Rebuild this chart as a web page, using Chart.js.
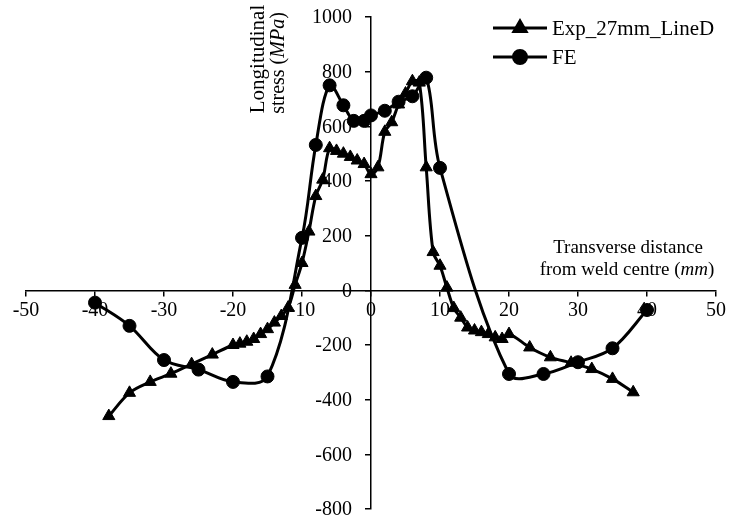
<!DOCTYPE html>
<html>
<head>
<meta charset="utf-8">
<script src="https://cdn.jsdelivr.net/npm/chart.js@4.4.1/dist/chart.umd.min.js"></script>
<style>
  body { margin: 0; background: #fff; }
</style>
</head>
<body>
<canvas id="myChart" width="734" height="524"></canvas>
<script>
// data
const expLabel = 'Exp_27mm_LineD';
const expX = [-38, -35, -32, -29, -26, -23, -20, -19, -18, -17, -16, -15, -14, -13, -12, -11, -10, -9, -8, -7,
  -6, -5, -4, -3, -2, -1, 0, 1, 2, 3, 4, 5, 6, 7, 8, 9, 10, 11, 12, 13, 14, 15, 16, 17, 18, 19, 20,
  23, 26, 29, 32, 35, 38];
const expY = [-460, -375, -335, -305, -270, -235, -200, -195, -188, -178, -160, -142, -118, -94, -63, 20, 100, 215, 345, 405,
  520, 510, 500, 488, 475, 462, 425, 450, 580, 615, 680, 720, 765, 760, 450, 140, 90, 10, -65, -100, -136, -147, -153, -160, -172, -178, -160,
  -209, -245, -265, -288, -324, -373];

const feLabel = 'FE';
const feX = [-40, -35, -30, -25, -20, -15, -10, -8, -6, -4, -2.5, -1, 0, 2, 4, 6, 8, 10, 20, 25, 30, 35, 40];
const feY = [-45, -130, -255, -290, -335, -315, 192, 532, 750, 677, 620, 620, 640, 657, 690, 710, 778, 448, -306, -306, -263, -212, -72];

const font = "'Liberation Serif', 'Times New Roman', serif";

function toPoints(xs, ys) {
  return xs.map((x, i) => ({ x: x, y: ys[i] }));
}

// axis titles, y tick labels and legend drawn inside the plot
const extras = {
  id: 'extras',
  afterDraw(chart) {
    const ctx = chart.ctx;
    const xs = chart.scales.x, ys = chart.scales.y;
    const y0 = ys.getPixelForValue(0);
    const x0 = xs.getPixelForValue(0);
    ctx.save();
    ctx.fillStyle = '#000';
    ctx.textBaseline = 'middle';

    // y tick labels, right aligned left of the axis
    ctx.font = '20px ' + font;
    ctx.textAlign = 'right';
    ys.ticks.forEach(t => {
      ctx.fillText(String(t.value), x0 - 19, ys.getPixelForValue(t.value) + 1);
    });

    // draws pieces [text, italic] centred on cx
    function mixed(parts, cx, cy, size) {
      let w = 0;
      parts.forEach(p => { ctx.font = (p[1] ? 'italic ' : '') + size + 'px ' + font; w += ctx.measureText(p[0]).width; });
      let x = cx - w / 2;
      ctx.textAlign = 'left';
      parts.forEach(p => {
        ctx.font = (p[1] ? 'italic ' : '') + size + 'px ' + font;
        ctx.fillText(p[0], x, cy);
        x += ctx.measureText(p[0]).width;
      });
    }

    // x title
    mixed([['Transverse distance', false]], 628, y0 - 42, 19);
    mixed([['from weld centre (', false], ['mm', true], [')', false]], 627, y0 - 20, 19);

    // y title
    ctx.save();
    ctx.translate(x0 - 113, 59);
    ctx.rotate(-Math.PI / 2);
    mixed([['Longitudinal', false]], 0, 0, 21);
    ctx.restore();
    ctx.save();
    ctx.translate(x0 - 92, 63);
    ctx.rotate(-Math.PI / 2);
    mixed([['stress (', false], ['MPa', true], [')', false]], 0, 0, 20);
    ctx.restore();

    // legend
    const rows = [28, 57];
    chart.data.datasets.forEach((ds, i) => {
      const ly = rows[i];
      ctx.strokeStyle = '#000';
      ctx.lineWidth = 3;
      ctx.beginPath();
      ctx.moveTo(493, ly);
      ctx.lineTo(547, ly);
      ctx.stroke();
      ctx.fillStyle = '#000';
      Chart.helpers.drawPoint(ctx, { pointStyle: ds.pointStyle, radius: ds.pointRadius, borderWidth: 1, rotation: 0 }, 520, ly);
      ctx.textAlign = 'left';
      ctx.font = '21px ' + font;
      ctx.fillText(ds.label, 552, ly + 1);
    });
    ctx.restore();
  }
};

const data = {
  datasets: [{
    label: expLabel,
    data: toPoints(expX, expY),
    borderColor: '#000',
    backgroundColor: '#000',
    borderWidth: 3,
    pointStyle: 'triangle',
    pointRadius: 7,
    pointBorderWidth: 1,
    tension: 0.35,
    showLine: true
  }, {
    label: feLabel,
    data: toPoints(feX, feY),
    borderColor: '#000',
    backgroundColor: '#000',
    borderWidth: 3,
    pointStyle: 'circle',
    pointRadius: 6.5,
    pointBorderWidth: 1,
    tension: 0.35,
    showLine: true
  }]
};

const config = {
  type: 'scatter',
  data,
  options: {
    responsive: false,
    animation: false,
    layout: { padding: { left: 26, right: 18, top: 17, bottom: 13 } },
    plugins: {
      legend: { display: false },
      tooltip: { enabled: false }
    },
    scales: {
      x: {
        type: 'linear',
        position: { y: 0 },
        min: -50,
        max: 50,
        ticks: { stepSize: 10, color: '#000', font: { family: font, size: 20 }, padding: 3, maxRotation: 0 },
        grid: { display: true, drawOnChartArea: false, drawTicks: true, tickLength: 5, color: '#000', lineWidth: 1.5 },
        border: { display: true, color: '#000', width: 1.5 }
      },
      y: {
        type: 'linear',
        position: { x: 0 },
        min: -800,
        max: 1000,
        ticks: { stepSize: 200, color: 'rgba(0,0,0,0)', font: { family: font, size: 20 } },
        grid: { display: true, drawOnChartArea: false, drawTicks: true, tickLength: 5, color: '#000', lineWidth: 1.5 },
        border: { display: true, color: '#000', width: 1.5 }
      }
    }
  },
  plugins: [extras]
};

var myChart = new Chart(document.getElementById('myChart'), config);
</script>
</body>
</html>
